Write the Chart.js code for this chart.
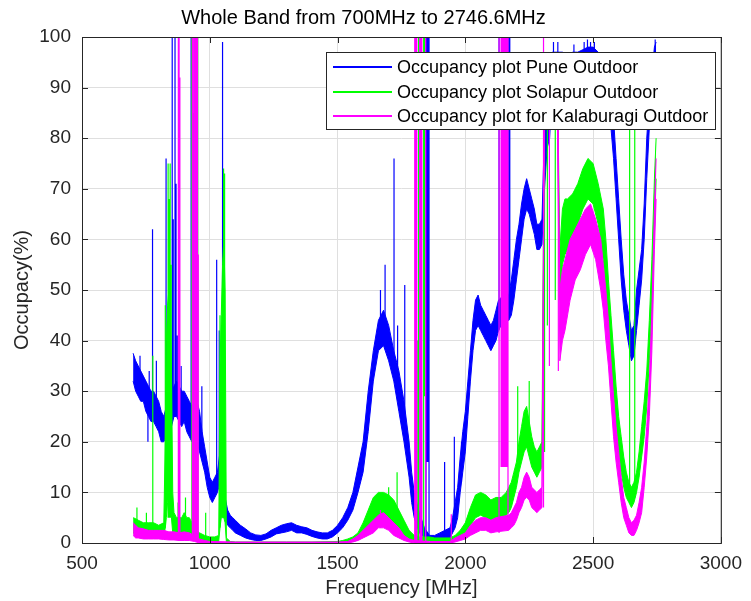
<!DOCTYPE html>
<html>
<head>
<meta charset="utf-8">
<title>Whole Band from 700MHz to 2746.6MHz</title>
<script src="https://cdn.jsdelivr.net/npm/chart.js@4.4.1/dist/chart.umd.min.js"></script>
<style>
  html, body { margin: 0; padding: 0; background: #fff; }
  #wrap { width: 751px; height: 601px; }
</style>
</head>
<body>
<div id="wrap"><canvas id="occChart" width="751" height="601"></canvas></div>
<script>
// Noise band of each curve: [frequency MHz, lower edge %, upper edge %]
const puneBand = [
  [700,32,37.5],[710,30,36],[720,29,35],[730,28,34],[740,28,33],[750,26,32],[760,25,31],[770,24,30],[780,24,30],[790,23,29],
  [800,22,28],[810,20,26],[820,20,25],[830,21,27],[840,22,28],[850,23,29],[860,25,31],[870,25,32],[880,24,31],[890,23,30],
  [900,24,30],[910,22,29],[920,21,28],[930,20,27],[940,21,29],[950,20,28],[960,18,26],[970,16,22],[980,14,19],[990,11,16],
  [1000,9,13],[1010,8,12],[1020,9,13],[1030,10,14],[1040,12,18],[1050,10,15],[1060,5,9],[1070,3.5,6.5],[1080,3,5.5],[1090,2.5,5],
  [1100,2,4.5],[1120,1.5,3.5],[1140,1,2.8],[1160,0.7,2],[1180,0.5,1.6],[1200,0.5,1.5],[1220,0.8,1.8],[1240,1.2,2.5],[1260,1.8,3],
  [1280,2,3.5],[1300,2.2,3.8],[1320,2.5,4],[1340,2,3.5],[1360,2,3.2],[1380,1.7,3],[1400,1.3,2.5],[1420,1,2.2],[1440,0.8,2],
  [1460,0.8,2],[1480,1.2,2.5],[1500,2,3.5],[1520,3,5],[1540,4.5,7],[1560,6.5,10],[1580,10,15],[1600,14,20],[1620,22,30],
  [1640,32,38],[1660,38,44],[1680,39,46],[1700,36,43],[1720,32,38],[1740,26,34],[1760,20,28],[1780,13,20],[1790,8,14],
  [1800,5,10],[1820,2,6],[1840,1,3],[1860,0.5,1.5],[1880,0.5,1.5],[1900,0.5,2],[1920,1,2.5],[1940,1,3],[1950,2,5],[1960,3,8],
  [1970,5,11],[1980,10,17],[1990,14,22],[2000,18,26],[2010,25,32],[2020,32,38],[2030,38,44],[2040,42,48],[2050,43,49],
  [2060,42,47],[2070,41,46],[2080,40,45],[2090,39,44],[2100,38,43],[2110,39,44],[2120,40,46],[2130,42,48],[2150,44,49],
  [2170,44,49],[2180,45,52],[2190,48,56],[2200,52,60],[2210,56,63],[2220,60,67],[2230,64,70],[2240,66,72],[2250,65,70],
  [2260,63,68],[2270,61,66],[2280,58,63],[2290,58,63],[2300,59,64],[2310,70,82],[2320,78,84],[2330,80,90],[2340,90,97],
  [2360,92,97],[2380,92,97],[2400,91,96],[2420,92,97],[2440,92,97],[2460,92,97.5],[2480,93,98],[2500,93,98],[2520,92,97],
  [2540,91,96],[2560,88,95],[2570,82,90],[2580,76,84],[2590,68,76],[2600,60,68],[2610,52,60],[2620,46,53],[2630,42,48],
  [2640,39,45],[2650,36,42],[2660,37,43],[2670,42,50],[2680,47,54],[2690,52,58],[2700,60,67],[2710,72,80],[2720,82,88],
  [2730,88,93],[2740,94,98],[2746.6,97,99]
];
const solapurBand = [
  [700,2,5],[710,1.8,4.8],[720,1.5,4.5],[740,1.5,4],[760,1.5,4],[780,1.5,4],[800,1.2,3.5],[820,1.5,4],[826,3,20],[830,5,40],
  [835,8,47],[840,10,50],[845,8,47],[850,5,35],[855,2,10],[860,2,6],[870,1.5,5],[880,1.5,5],[890,1.5,5],[900,1.5,6],
  [910,1.5,5],[920,1.5,5],[930,1,4],[940,1,3],[950,0.8,2.5],[960,0.5,2],[980,0.5,1.5],[1000,0.3,1.2],[1020,0.3,1.2],
  [1035,0.3,1.5],[1040,3,35],[1045,5,45],[1050,5,55],[1055,5,60],[1060,4,50],[1065,0.2,1],[1080,0,0.3],[1100,0,0.2],
  [1200,0,0.2],[1300,0,0.2],[1400,0,0.2],[1500,0,0.3],[1520,0.1,0.5],[1540,0.2,0.8],[1560,0.3,1.2],[1580,0.6,2],[1600,1.5,4],
  [1620,3,6.5],[1640,4.5,9],[1660,5,10],[1680,5.5,10],[1700,5,9.5],[1720,4,8.5],[1740,3,6.5],[1760,1.5,4.5],[1780,0.8,2.5],
  [1800,0.5,1.5],[1820,0.4,1.2],[1840,0.4,1.2],[1860,0.5,1.2],[1880,0.3,1],[1900,0.3,1],[1920,0.3,1],[1940,0.3,1],
  [1960,0.5,1.5],[1980,1,2.5],[2000,1.5,4],[2020,3.5,7],[2040,5,9.5],[2060,5.5,10],[2080,5,9.5],[2100,4.5,8.5],[2120,4.5,9],
  [2140,5,9],[2160,5.5,10],[2170,6,11],[2180,7,12],[2190,9,14],[2200,11,16],[2210,14,20],[2220,16,23],[2230,18,26],
  [2240,19,27],[2250,17,24],[2260,15,21],[2270,14,19],[2280,13,18],[2290,14,19],[2300,15,20],[2310,82,92],[2320,85,93],
  [2340,86,94],[2360,85,93],[2370,48,58],[2380,55,66],[2390,57,68],[2400,58,68],[2420,60,69],[2440,63,71],[2460,66,74],
  [2480,68,76],[2500,67,75],[2520,63,71],[2540,56,66],[2550,50,60],[2560,42,52],[2570,36,45],[2580,29,38],[2590,23,31],
  [2600,18,25],[2610,14,21],[2620,11,17],[2630,9,14],[2640,8,12],[2650,7,11],[2660,8,12],[2670,10,14],[2680,13,18],
  [2690,17,23],[2700,21,28],[2710,27,34],[2720,36,44],[2730,47,56],[2740,62,72],[2746.6,72,80]
];
const kalaburagiBand = [
  [700,1.5,4],[710,1,3.5],[720,1,3],[740,0.8,2.8],[760,0.8,2.5],[780,0.8,2.5],[800,0.8,2.5],[820,0.7,2.5],[840,0.6,2.2],
  [860,0.6,2.2],[880,0.5,2],[900,0.5,2.2],[920,0.5,2],[940,0.3,1.5],[960,0,0.8],[980,0,0.5],[1000,0,0.3],[1100,0,0.2],
  [1200,0,0.2],[1300,0,0.2],[1400,0,0.2],[1500,0,0.2],[1540,0,0.3],[1560,0.2,0.8],[1580,0.5,1.5],[1600,1,2.5],[1620,1.5,3.5],
  [1640,2,4.5],[1660,3,5.5],[1680,3,6],[1700,2.5,5],[1720,1.5,4],[1740,1,3],[1760,0.5,1.5],[1780,0.2,0.8],[1800,0,0.5],
  [1860,0,0.3],[1940,0,0.3],[1960,0.2,1],[1980,0.5,1.5],[2000,0.8,2],[2020,1.5,3.5],[2040,2,4.5],[2060,2.5,5],[2080,2.5,5],
  [2100,2,4.5],[2120,2.2,5],[2170,2.5,5.5],[2180,3,6],[2190,3.5,7],[2200,4.5,8],[2210,6,10],[2220,7,11],[2230,8.5,13],
  [2240,9,14],[2250,8.5,13],[2260,7,11],[2270,6.5,10.5],[2280,6,10],[2290,6.5,10.5],[2300,7,11],[2310,85,93],[2320,86,94],
  [2340,86,94],[2360,85,93],[2370,36,50],[2380,40,54],[2390,42,56],[2410,48,60],[2430,52,62],[2450,54,64],[2470,57,66],
  [2490,59,67],[2510,56,64],[2530,50,60],[2540,46,55],[2550,40,50],[2560,35,44],[2570,28,36],[2580,21,29],[2590,16,23],
  [2600,12,18],[2610,8,13],[2620,5,9],[2630,3.5,7],[2640,2,5],[2650,1.5,4],[2660,1.5,4.5],[2670,2.5,5.5],[2680,4,8],
  [2690,6,11],[2700,11,16],[2710,17,23],[2720,25,32],[2730,38,46],[2740,58,66],[2746.6,68,76]
];

// Narrow bursts: [frequency MHz, from %, to %]
const puneSpikes = [
  [727,30,37],[758,20,30],[763,26,34],[776,26,62],[791,25,36],[829,22,76],[832,22,40],[853,25,100],[857,25,64],[864,27,100],
  [868,27,71],[873,27,41],[888,25,35],[927,22,100],[950,22,58],[969,18,31],[1027,10,56],[1037,12,42],[1050,12,99],
  [1668,40,50],[1686,40,55],[1721,33,76],[1735,30,43],[1763,22,51],[1806,5,100],[1818,2,100],[1846,1,100],[1850,16,100],
  [1854,16,100],[1858,1,100],[1919,1,16],[1957,3,21],[1985,12,20],[2132,42,100],[2170,44,100],[2174,46,100],
  [2345,94,99],[2362,94,99],[2425,93,98.5],[2465,94,99],[2478,94,99.5],[2490,94,99],[2505,94,99],[2743,96,99.5]
];
const solapurSpikes = [
  [715,2,7],[752,2,6],[777,2,37],[826,3,47],[837,5,75],[841,5,68],[845,5,75],[849,5,55],[876,2,8],[905,2,9],
  [930,1,100],[933,1,100],[937,1,85],[953,1,100],[984,0.5,6],[1040,3,45],[1054,5,74],[1058,5,73],[1700,6,11],[1733,4,14],
  [1814,0.5,40],[1817,0.5,100],[1837,0.5,100],[1840,29,100],[2205,14,31],[2250,20,32],[2310,18,92],[2321,43,90],
  [2352,48,90],[2643,9,86],[2663,9,86]
];
const kalaburagiSpikes = [
  [877,0.5,100],[880,0.5,100],[883,0.5,92],[932,0.5,100],[937,0.5,100],[940,0.5,100],[943,0.5,100],[946,0.5,100],
  [949,0.5,100],[952,0.5,100],[955,0.5,57],[1668,3,6.5],[1802,0,100],[1806,0,100],[1810,0,100],[1822,0,100],[1826,0,100],
  [1830,0,100],[1845,0,100],[1945,0,5.7],[2132,2,100],[2140,15,100],[2144,15,100],[2148,15,100],[2152,15,100],
  [2156,15,100],[2160,15,100],[2164,15,100],[2167,3,100],[2306,7,100],[2329,35,90],[2364,34,90]
];

const seriesNames = ["Occupancy plot Pune Outdoor", "Occupancy plot Solapur Outdoor", "Occupancy plot for Kalaburagi Outdoor"];
const seriesColors = ["#0000ff", "#00ff00", "#ff00ff"];
const xTicks = [500, 1000, 1500, 2000, 2500, 3000];
const yTicks = [0, 10, 20, 30, 40, 50, 60, 70, 80, 90, 100];

const FONT = "'Liberation Sans', Arial, Helvetica, sans-serif";

const bandLine = (band, idx) => band.map(p => ({ x: p[0], y: p[idx] }));
const spikeLine = spikes => spikes.flatMap(s => [{ x: s[0], y: s[1] }, { x: s[0], y: s[2] }, { x: s[0], y: null }]);

// lower edge, upper edge filled down to it, then the bursts
const seriesSets = (band, spikes, color, order) => [
  { data: bandLine(band, 1), borderColor: color, borderWidth: 1, fill: false, order },
  { data: bandLine(band, 2), borderColor: color, backgroundColor: color, borderWidth: 1, fill: "-1", order },
  { data: spikeLine(spikes), borderColor: color, borderWidth: 1.2, fill: false, order }
];

// box, inner ticks and the opaque legend, drawn like the original figure
const frameAndLegend = {
  id: "frameAndLegend",
  afterDatasetsDraw(chart) {
    const { ctx, chartArea: a, scales } = chart;
    ctx.save();
    ctx.strokeStyle = "#262626";
    ctx.lineWidth = 1;
    ctx.strokeRect(a.left + 0.5, a.top + 0.5, a.right - a.left, a.bottom - a.top);
    ctx.beginPath();
    xTicks.forEach(v => {
      const px = Math.round(scales.x.getPixelForValue(v)) + 0.5;
      ctx.moveTo(px, a.bottom); ctx.lineTo(px, a.bottom - 6);
      ctx.moveTo(px, a.top); ctx.lineTo(px, a.top + 6);
    });
    yTicks.forEach(v => {
      const py = Math.round(scales.y.getPixelForValue(v)) + 0.5;
      ctx.moveTo(a.left, py); ctx.lineTo(a.left + 6, py);
      ctx.moveTo(a.right, py); ctx.lineTo(a.right - 6, py);
    });
    ctx.stroke();

    // legend box
    const lx = 326, ly = 52, lw = 389, lh = 77;
    ctx.fillStyle = "#ffffff";
    ctx.fillRect(lx, ly, lw, lh);
    ctx.strokeStyle = "#262626";
    ctx.lineWidth = 1;
    ctx.strokeRect(lx + 0.5, ly + 0.5, lw, lh);
    ctx.font = "18px " + FONT;
    ctx.textBaseline = "middle";
    seriesNames.forEach((name, i) => {
      const y = Math.round(ly + 15 + i * 24.5);
      ctx.strokeStyle = seriesColors[i];
      ctx.lineWidth = 2;
      ctx.beginPath();
      ctx.moveTo(lx + 7, y); ctx.lineTo(lx + 66, y);
      ctx.stroke();
      ctx.fillStyle = "#000000";
      ctx.fillText(name, lx + 71, y + 1);
    });
    ctx.restore();
  }
};

new Chart(document.getElementById("occChart"), {
  type: "line",
  data: {
    datasets: [
      ...seriesSets(puneBand, puneSpikes, seriesColors[0], 3),
      ...seriesSets(solapurBand, solapurSpikes, seriesColors[1], 2),
      ...seriesSets(kalaburagiBand, kalaburagiSpikes, seriesColors[2], 1)
    ]
  },
  options: {
    responsive: false,
    animation: false,
    elements: { point: { radius: 0 }, line: { tension: 0 } },
    layout: { padding: { right: 24 } },
    plugins: {
      legend: { display: false },
      tooltip: { enabled: false },
      title: {
        display: true,
        text: "Whole Band from 700MHz to 2746.6MHz",
        color: "#000000",
        font: { family: FONT, size: 20, weight: "normal" },
        padding: { top: 6, bottom: 7 }
      }
    },
    scales: {
      x: {
        type: "linear",
        min: 500,
        max: 3000,
        afterFit: s => { s.height = 58; },
        afterBuildTicks: s => { s.ticks = xTicks.map(v => ({ value: v })); },
        ticks: { color: "#262626", font: { family: FONT, size: 19 }, padding: 9, maxRotation: 0, autoSkip: false, callback: v => String(v) },
        grid: { color: "#dfdfdf", drawTicks: false },
        border: { display: false },
        title: { display: true, text: "Frequency [MHz]", color: "#262626", font: { family: FONT, size: 20 }, padding: { top: 0, bottom: 1 } }
      },
      y: {
        min: 0,
        max: 100,
        afterFit: s => { s.width = 82; },
        afterBuildTicks: s => { s.ticks = yTicks.map(v => ({ value: v })); },
        ticks: { color: "#262626", font: { family: FONT, size: 19 }, padding: 11, autoSkip: false, callback: v => String(v) },
        grid: { color: "#dfdfdf", drawTicks: false },
        border: { display: false },
        title: { display: true, text: "Occupacy(%)", color: "#262626", font: { family: FONT, size: 20 }, padding: { top: 10, bottom: 0 } }
      }
    }
  },
  plugins: [frameAndLegend]
});
</script>
</body>
</html>
